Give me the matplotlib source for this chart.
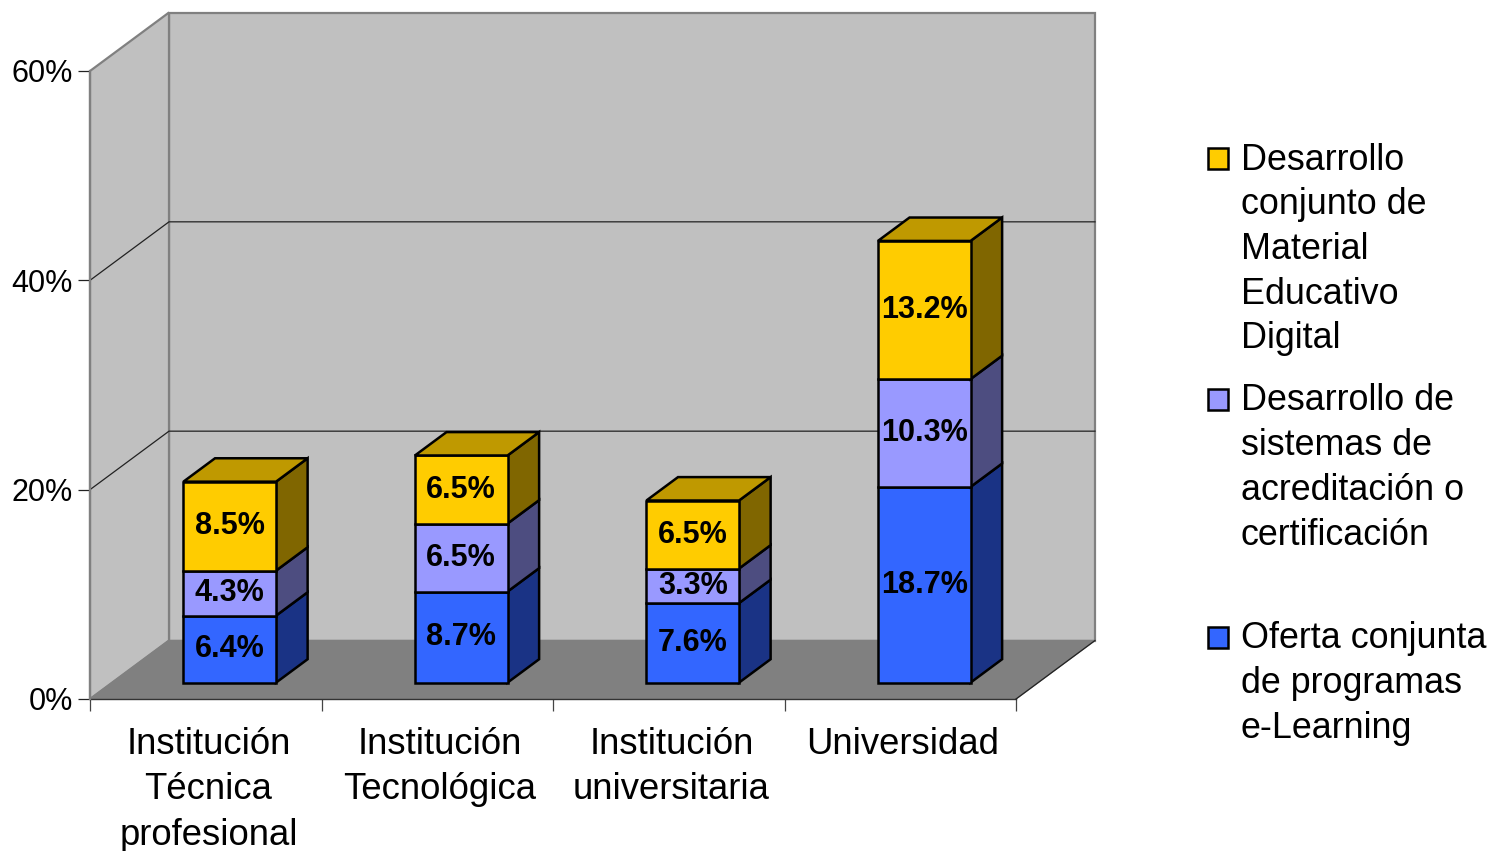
import matplotlib
matplotlib.use("Agg")
import matplotlib.pyplot as plt
from matplotlib.patches import Polygon, Rectangle

plt.rcParams['font.family'] = ['Liberation Sans', 'DejaVu Sans']

categories = ["Institución\nTécnica\nprofesional", "Institución\nTecnológica",
              "Institución\nuniversitaria", "Universidad"]
oferta = [6.4, 8.7, 7.6, 18.7]
acreditacion = [4.3, 6.5, 3.3, 10.3]
material = [8.5, 6.5, 6.5, 13.2]
series_names = ["Oferta conjunta\nde programas\ne-Learning",
                "Desarrollo de\nsistemas de\nacreditación o\ncertificación",
                "Desarrollo\nconjunto de\nMaterial\nEducativo\nDigital"]
y_ticks = [0, 20, 40, 60]

W, H = 1487, 851
# front plane of the 3d box in pixels
LEFT, RIGHT, BOTTOM, TOP = 90, 1016, 699, 71
# depth of the box in data units
DX = 79 / ((RIGHT - LEFT) / 4)
DY = 58.5 / ((BOTTOM - TOP) / 60)
BAR_W = 0.40
BAR_SHIFT = 0.008
D0, D1 = 0.28, 0.68

front = ['#3366FF', '#9999FF', '#FFCC00']
side = ['#1A3385', '#4D4D80', '#806600']
top = ['#1A3385', '#4D4D80', '#BF9900']


def proj(x, y, d=0.0):
    return (x + d * DX, y + d * DY)


def face(ax, pts, color, edge='black', lw=1.8, z=3):
    ax.add_patch(Polygon(pts, closed=True, facecolor=color, edgecolor=edge,
                         linewidth=lw, joinstyle='miter', clip_on=False, zorder=z))


fig = plt.figure(figsize=(W / 100, H / 100), dpi=100)
ax = fig.add_axes([LEFT / W, 1 - BOTTOM / H, (RIGHT - LEFT) / W, (BOTTOM - TOP) / H])
ax.set_xlim(0, 4)
ax.set_ylim(0, 60)
ax.patch.set_visible(False)

# walls and floor
n = len(categories)
ymax = y_ticks[-1]
face(ax, [proj(0, 0, 1), proj(n, 0, 1), proj(n, ymax, 1), proj(0, ymax, 1)],
     '#C0C0C0', edge='#808080', lw=1.6, z=1)
face(ax, [proj(0, 0), proj(0, 0, 1), proj(0, ymax, 1), proj(0, ymax)],
     '#C0C0C0', edge='#808080', lw=1.6, z=1)
face(ax, [proj(0, 0), proj(n, 0), proj(n, 0, 1), proj(0, 0, 1)],
     '#808080', edge='#808080', lw=1.0, z=1.5)

# gridlines on side and back wall
for v in y_ticks[1:-1]:
    xs, ys = zip(proj(0, v), proj(0, v, 1), proj(n, v, 1))
    ax.plot(xs, ys, color='#222222', lw=0.9, zorder=2, clip_on=False)
ax.plot(*zip(proj(0, 0), proj(n, 0)), color='#333333', lw=1.0, zorder=2, clip_on=False)
ax.plot(*zip(proj(n, 0), proj(n, 0, 1)), color='#222222', lw=0.9, zorder=2, clip_on=False)

# stacked bars
for i in range(n):
    xc = i + 0.5 + BAR_SHIFT
    x0 = xc - BAR_W / 2
    x1 = xc + BAR_W / 2
    base = 0.0
    for k, vals in enumerate([oferta, acreditacion, material]):
        v = vals[i]
        face(ax, [proj(x1, base, D0), proj(x1, base, D1), proj(x1, base + v, D1), proj(x1, base + v, D0)], side[k])
        face(ax, [proj(x0, base, D0), proj(x1, base, D0), proj(x1, base + v, D0), proj(x0, base + v, D0)], front[k])
        if k == 2:
            face(ax, [proj(x0, base + v, D0), proj(x1, base + v, D0), proj(x1, base + v, D1), proj(x0, base + v, D1)], top[k])
        cx, cy = proj(xc, base + v / 2, D0)
        ax.text(cx, cy, f"{v:.1f}%", ha='center', va='center', fontsize=22,
                fontweight='bold', color='black', zorder=5, clip_on=False)
        base += v

# axes
for s in ax.spines.values():
    s.set_visible(False)
ax.set_yticks(y_ticks)
ax.set_yticklabels([f"{v}%" for v in y_ticks], fontsize=22)
ax.tick_params(axis='y', length=8.5, width=0.9, color='#222222', pad=4)
ax.set_xticks(range(n + 1))
ax.set_xticklabels([])
ax.tick_params(axis='x', which='major', length=8.5, width=0.9, color='#444444')
ax.set_xticks([i + 0.512 for i in range(n)], minor=True)
ax.set_xticklabels(categories, minor=True, fontsize=26.3, linespacing=1.39)
ax.tick_params(axis='x', which='minor', length=0, pad=20)
ax.plot([0, 0], [0, ymax], color='#808080', lw=1.6, zorder=2, clip_on=False)

# legend, entries are not evenly spaced
legend_y = [636, 398, 157]
for name, color, ly in zip(series_names, front, legend_y):
    fig.patches.append(Rectangle((1208 / W, 1 - (ly + 12) / H), 20 / W, 21 / H, transform=fig.transFigure,
                                 facecolor=color, edgecolor='black', linewidth=1.8))
    fig.text(1241 / W, 1 - (ly - 14.5) / H, name, ha='left', va='top', fontsize=25.8, linespacing=1.36)

fig.savefig("out.png", dpi=100)
